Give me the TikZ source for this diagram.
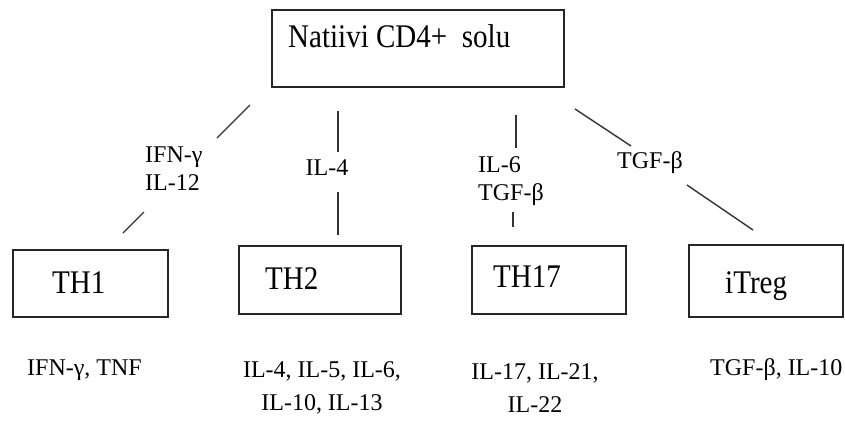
\documentclass[tikz,border=0pt]{standalone}
\usepackage{fontspec}
\setmainfont{Liberation Serif}
\newfontfamily\boxfont[FakeStretch=0.88]{Liberation Serif}
\begin{document}
\begin{tikzpicture}[x=1pt,y=-1pt,
  cellbox/.style={draw=black!85, line width=1.6pt, inner sep=0pt},
  boxtext/.style={anchor=base west, inner sep=0pt, font=\boxfont\fontsize{33}{36}\selectfont},
  cyto/.style={inner sep=0pt, font=\fontsize{24}{28}\selectfont, align=left},
  prod/.style={inner sep=0pt, font=\fontsize{24}{33}\selectfont, align=center},
  link/.style={draw=black!80, line width=1.4pt}]
\useasboundingbox (0,0) rectangle (845,421);
% boxes
\node[cellbox, minimum width=292pt, minimum height=77pt] (cd4) at (418,48.5) {};
\node[cellbox, minimum width=155pt, minimum height=67pt] (th1) at (90.5,283.5) {};
\node[cellbox, minimum width=162pt, minimum height=68pt] (th2) at (320,280) {};
\node[cellbox, minimum width=154pt, minimum height=68pt] (th17) at (549,280) {};
\node[cellbox, minimum width=154pt, minimum height=72pt] (itreg) at (766,281) {};
% box texts
\node[boxtext] (cd4t) at (288,47) {Natiivi CD4+\ \ solu};
\node[boxtext] (th1t) at (52,293) {TH1};
\node[boxtext] (th2t) at (265,289) {TH2};
\node[boxtext] (th17t) at (493,287) {TH17};
\node[boxtext] (itregt) at (725,293) {iTreg};
% broken connectors
\coordinate (a1) at (250,105); \coordinate (a2) at (217,138);
\coordinate (a3) at (144,212); \coordinate (a4) at (123,233);
\coordinate (b1) at (338,111); \coordinate (b2) at (338,152);
\coordinate (b3) at (338,192); \coordinate (b4) at (338,235);
\coordinate (c1) at (516,115); \coordinate (c2) at (516,148);
\coordinate (c3) at (513,212); \coordinate (c4) at (513,227);
\coordinate (d1) at (575,109); \coordinate (d2) at (631,146);
\coordinate (d3) at (687,185); \coordinate (d4) at (753,230);
\draw[link] (a1) -- (a2); \draw[link] (a3) -- (a4);
\draw[link] (b1) -- (b2); \draw[link] (b3) -- (b4);
\draw[link] (c1) -- (c2); \draw[link] (c3) -- (c4);
\draw[link] (d1) -- (d2); \draw[link] (d3) -- (d4);
% connector labels
\node[cyto, anchor=west] (la) at (145,169) {IFN-γ\\IL-12};
\node[cyto] (lb) at (327,168) {IL-4};
\node[cyto, anchor=west] (lc) at (478,181) {IL-6\\TGF-β};
\node[cyto, anchor=west] (ld) at (617,163) {TGF-β};
% products
\node[prod, anchor=west] (pa) at (27,370) {IFN-γ, TNF};
\node[prod] (pb) at (322,388) {IL-4, IL-5, IL-6,\\IL-10, IL-13};
\node[prod] (pc) at (535,388) {IL-17, IL-21,\\IL-22};
\node[prod, anchor=west] (pd) at (710,370) {TGF-β, IL-10};
\end{tikzpicture}
\end{document}
